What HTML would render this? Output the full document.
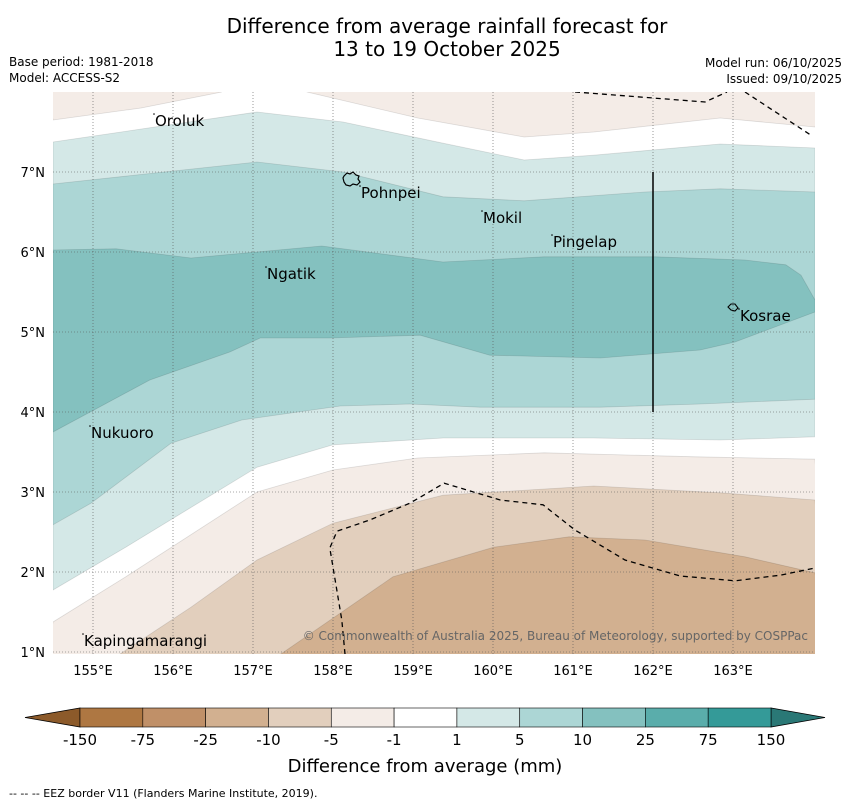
<!DOCTYPE html>
<html><head><meta charset="utf-8">
<style>
html,body{margin:0;padding:0;background:#fff;}
body{width:850px;height:804px;overflow:hidden;font-family:"DejaVu Sans","Liberation Sans",sans-serif;}
svg text{font-family:"DejaVu Sans","Liberation Sans",sans-serif;}
</style></head>
<body>
<svg id="chart" width="850" height="804" viewBox="0 0 850 804" xmlns="http://www.w3.org/2000/svg">
<text x="447" y="33" font-size="20" text-anchor="middle">Difference from average rainfall forecast for</text>
<text x="447" y="56" font-size="20" text-anchor="middle">13 to 19 October 2025</text>
<text x="9" y="66" font-size="12">Base period: 1981-2018</text>
<text x="9" y="82" font-size="12">Model: ACCESS-S2</text>
<text x="842" y="67" font-size="12" text-anchor="end">Model run: 06/10/2025</text>
<text x="842" y="83" font-size="12" text-anchor="end">Issued: 09/10/2025</text>
<defs><clipPath id="mapclip"><rect x="53" y="92" width="762" height="562"/></clipPath></defs>
<g id="map" clip-path="url(#mapclip)">
<rect x="53" y="92" width="762" height="562" fill="#ffffff"/>
</g>
<g id="overlay"></g>
<g id="cbar"></g>
<text x="425" y="772" font-size="18" text-anchor="middle">Difference from average (mm)</text>
<text x="9" y="797" font-size="11">--  --  -- EEZ border V11 (Flanders Marine Institute, 2019).</text>
</svg>
<script>
// ---- data ----
const lonTicks = [155,156,157,158,159,160,161,162,163];
const latTicks = [1,2,3,4,5,6,7];
const levels = ["-150","-75","-25","-10","-5","-1","1","5","10","25","75","150"];
const bandColors = ["#ae7742","#c09068","#d2b090","#e2cfbd","#f4ece7","#ffffff","#d4e8e7","#acd6d5","#84c1bf","#5aadab","#349a98"];
const topBrownLeft = [[154.5,7.65],[155.6,7.8],[156.61,8.0]];
const topBrownRight = [[157.675,8.0],[159.06,7.675],[160.39,7.4375],[161.26,7.5],[162.84,7.675],[164.025,7.5625]];
const teal1Top = [[154.5,7.375],[157.05,7.75],[158.125,7.625],[159.375,7.36],[160.39,7.15],[161.26,7.21],[162.84,7.35],[164.025,7.3]];
const teal1Bottom = [[154.5,1.775],[155.41,2.31],[157.05,3.31],[158.0,3.59],[159.375,3.675],[161.26,3.675],[162.84,3.65],[164.025,3.69]];
const teal5Top = [[154.5,6.85],[157.05,7.125],[158.125,7.0],[159.375,6.69],[160.39,6.64],[161.9,6.75],[162.84,6.79],[164.025,6.75]];
const teal5Bottom = [[154.5,2.59],[154.975,2.86],[155.975,3.61],[156.86,3.9],[158.09,4.075],[158.96,4.1],[159.84,4.06],[161.34,4.06],[162.59,4.1],[164.025,4.16]];
const teal10Top = [[154.5,6.025],[155.29,6.04],[156.225,5.925],[157.86,6.075],[159.375,5.875],[160.64,5.94],[162.025,5.94],[163.15,5.9],[163.66,5.84],[163.85,5.71],[164.025,5.4]];
const teal10Bottom = [[154.5,3.75],[155.71,4.4],[156.71,4.75],[157.09,4.925],[157.96,4.925],[159.09,4.96],[159.96,4.71],[161.34,4.675],[162.59,4.775],[163.025,4.875],[164.025,5.25]];
const brown1 = [[154.5,1.375],[155.41,1.94],[157.05,3.0],[158.0,3.275],[159.06,3.425],[160.64,3.49],[162.525,3.44],[164.025,3.41]];
const brown5 = [[155.225,0.9],[156.225,1.56],[157.05,2.15],[158.0,2.61],[159.375,2.96],[161.26,3.075],[162.84,2.99],[164.025,2.9]];
const brown10 = [[157.24,0.9],[158.75,1.94],[160.01,2.31],[160.95,2.44],[161.9,2.4],[163.15,2.19],[164.025,1.99]];
const eezTop1 = [[161.025,8.0],[162.65,7.875],[162.925,8.0]];
const eezTop2 = [[163.15,8.0],[163.975,7.46]];
const eezBottom = [[158.15,0.975],[158.11,1.4],[157.96,2.3],[158.05,2.51],[158.46,2.65],[158.96,2.86],[159.39,3.11],[160.09,2.9],[160.625,2.84],[161.025,2.525],[161.65,2.15],[162.34,1.95],[163.025,1.89],[163.59,1.96],[164.025,2.05]];
const islandNames = ["Oroluk","Pohnpei","Mokil","Pingelap","Ngatik","Kosrae","Nukuoro","Kapingamarangi"];
const islandLon = [155.775,158.35,159.875,160.75,157.175,163.0875,154.975,154.8875];
const islandLat = [7.575,6.675,6.3625,6.0625,5.6625,5.1375,3.675,1.075];

// ---- scales ----
const X = lon => 53 + (lon - 154.5) * 80;
const Y = lat => 92 + (8 - lat) * 80;
const NS = "http://www.w3.org/2000/svg";
function mk(tag, attrs, parent){const e=document.createElementNS(NS,tag);for(const k in attrs)e.setAttribute(k,attrs[k]);parent.appendChild(e);return e;}
const pts = arr => arr.map(p => X(p[0]).toFixed(1)+","+Y(p[1]).toFixed(1)).join(" ");
const map = document.getElementById("map");
const ov = document.getElementById("overlay");

function region(points, color, name){
  const p = mk("polygon",{points:pts(points),fill:color,stroke:"rgba(0,0,0,0.12)","stroke-width":"0.8"},map);
  
  
}
region(topBrownLeft.concat([[154.4,8.2]]), bandColors[4], "band-top-left-minus5");
region(topBrownRight.concat([[164.2,8.2],[157.6,8.2]]), bandColors[4], "band-top-right-minus5");
region(teal1Top.concat(teal1Bottom.slice().reverse()), bandColors[6], "band-1-to-5");
region(teal5Top.concat(teal5Bottom.slice().reverse()), bandColors[7], "band-5-to-10");
region(teal10Top.concat(teal10Bottom.slice().reverse()), bandColors[8], "band-10-to-25");
region(brown1.concat([[164.2,0.8],[154.4,0.8]]), bandColors[4], "band-minus1-to-minus5");
region(brown5.concat([[164.2,0.8]]), bandColors[3], "band-minus5-to-minus10");
region(brown10.concat([[164.2,0.8]]), bandColors[2], "band-minus10-to-minus25");

// grid
lonTicks.forEach(l=>{
  const g = mk("line",{x1:X(l),x2:X(l),y1:92,y2:654,stroke:"#555","stroke-width":"0.6","stroke-dasharray":"1,2"},map);
  
  
  const t = mk("text",{x:X(l),y:675,"font-size":"13","text-anchor":"middle"},ov);
  t.textContent = l+"°E";
  
  
});
latTicks.forEach(l=>{
  const g = mk("line",{x1:53,x2:815,y1:Y(l),y2:Y(l),stroke:"#555","stroke-width":"0.6","stroke-dasharray":"1,2"},map);
  
  
  const t = mk("text",{x:45,y:Y(l)+5,"font-size":"13","text-anchor":"end"},ov);
  t.textContent = l+"°N";
  
  
});

// EEZ
[eezTop1,eezTop2,eezBottom].forEach(a=>{
  const l = mk("polyline",{points:pts(a),fill:"none",stroke:"#000","stroke-width":"1.3","stroke-dasharray":"5,4"},map);
  
  
});
const vl = mk("line",{x1:X(162),x2:X(162),y1:Y(7),y2:Y(4),stroke:"#000","stroke-width":"1.5"},map);



// island outlines
const pohn = mk("path",{d:"M344,176 l3,-3 l3,1 l3,-2 l3,3 l3,1 l-1,3 l2,3 l-3,3 l-4,-1 l-3,2 l-4,-1 l-2,-3 l-1,-4 z",fill:"none",stroke:"#000","stroke-width":"1.2"},map);


const kos = mk("path",{d:"M728,307 l3,-3 l4,0 l3,4 l-3,3 l-4,-1 z",fill:"none",stroke:"#000","stroke-width":"1.1"},map);



// island labels
islandNames.forEach((n,i)=>{
  const d = mk("circle",{cx:X(islandLon[i])-1,cy:Y(islandLat[i])-12,r:"0.8",fill:"#000"},ov);
  
  
  const t = mk("text",{x:X(islandLon[i]),y:Y(islandLat[i]),"font-size":"15"},ov);
  t.textContent = n;
  
  
});
const cp = mk("text",{x:808,y:640,"font-size":"12","text-anchor":"end",fill:"#666"},ov);
cp.textContent = "© Commonwealth of Australia 2025, Bureau of Meteorology, supported by COSPPac";



// colorbar
const cb = document.getElementById("cbar");
const cbX0 = 80, cbX1 = 771, cbY = 708, cbH = 19;
const segW = (cbX1-cbX0)/bandColors.length;
const lt = mk("polygon",{points:`${cbX0},${cbY} ${cbX0},${cbY+cbH} 25,${cbY+cbH/2}`,fill:"#8c5a2a",stroke:"#000","stroke-width":"0.8"},cb);


const rt = mk("polygon",{points:`${cbX1},${cbY} ${cbX1},${cbY+cbH} 825,${cbY+cbH/2}`,fill:"#2a7876",stroke:"#000","stroke-width":"0.8"},cb);


bandColors.forEach((c,i)=>{
  const r = mk("rect",{x:cbX0+i*segW,y:cbY,width:segW,height:cbH,fill:c,stroke:"#000","stroke-width":"0.6"},cb);
  
  
});
levels.forEach((v,i)=>{
  const t = mk("text",{x:cbX0+i*segW,y:745,"font-size":"15","text-anchor":"middle"},cb);
  t.textContent = v;
  
  
});
</script>
</body></html>
